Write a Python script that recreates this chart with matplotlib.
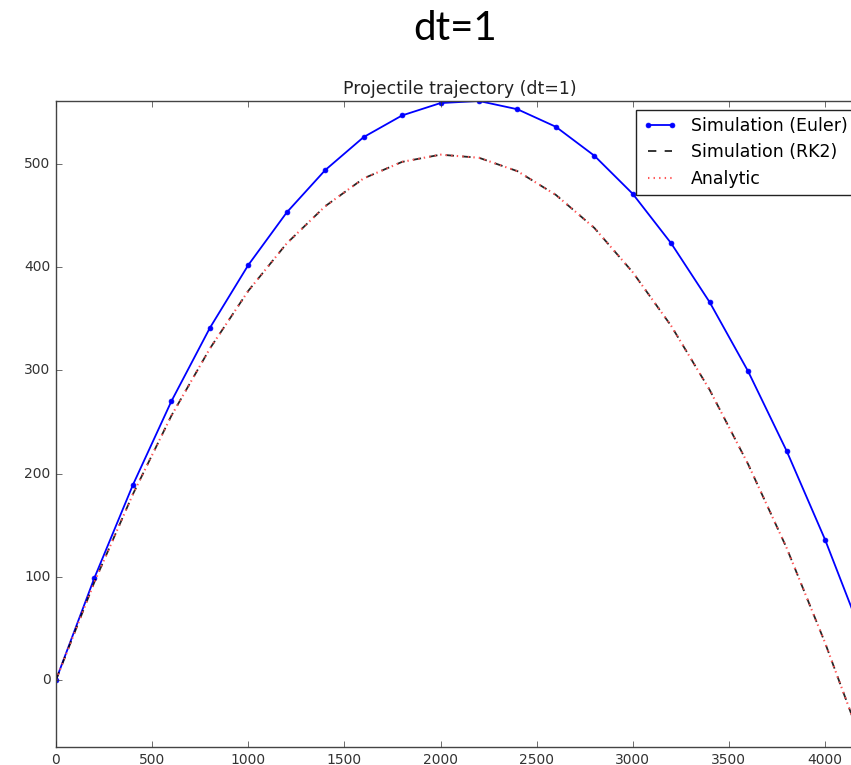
import matplotlib
matplotlib.use("Agg")
import matplotlib.pyplot as plt

# Data (x every 200 units)
x = [0, 200, 400, 600, 800, 1000, 1200, 1400, 1600, 1800, 2000,
     2200, 2400, 2600, 2800, 3000, 3200, 3400, 3600, 3800, 4000, 4200]
y_euler = [0, 99, 189, 270, 341, 402, 453, 494, 526, 547, 559,
           561, 553, 536, 508, 471, 423, 366, 299, 222, 136, 40]
y_rk2 = [0, 95, 180, 256, 321, 377, 423, 459, 486, 502, 509,
         506, 493, 470, 438, 395, 343, 281, 209, 128, 36, -65]
y_analytic = [0, 95, 180, 256, 321, 377, 423, 459, 486, 502, 509,
              506, 493, 470, 438, 395, 343, 281, 209, 128, 36, -65]

plt.style.use('classic')
fig = plt.figure(figsize=(8.51, 7.65), dpi=100, facecolor='white')
ax = fig.add_axes([56/851, 18/765, (863.5-56)/851, (747-101)/765])
ax.set_facecolor('white')

ax.plot(x, y_euler, 'b.-', lw=1.3, ms=7, label='Simulation (Euler)')
ax.plot(x, y_rk2, 'k--', lw=1.3, alpha=0.85, label='Simulation (RK2)')
ax.plot(x, y_analytic, color='#ff5555', ls=':', lw=1.5, label='Analytic')

ax.set_xlim(min(x), max(x))
ax.set_ylim(min(y_analytic), max(y_euler))
ax.set_xticks([0, 500, 1000, 1500, 2000, 2500, 3000, 3500, 4000])
ax.set_yticks([0, 100, 200, 300, 400, 500])
ax.tick_params(labelsize=10, colors='#333333')
for s in ax.spines.values():
    s.set_color('#444444')
ax.set_title('Projectile trajectory (dt=1)', fontsize=12.5, color='#222222')
leg = ax.legend(loc='upper right', fontsize=12.5, numpoints=2)
leg.get_frame().set_edgecolor('#222222')

fig.text(455/851, 1 - 28/765, 'dt=1', fontsize=29, family='Lato',
         ha='center', va='center', color='black')

fig.savefig('out.png', dpi=100, facecolor='white')
